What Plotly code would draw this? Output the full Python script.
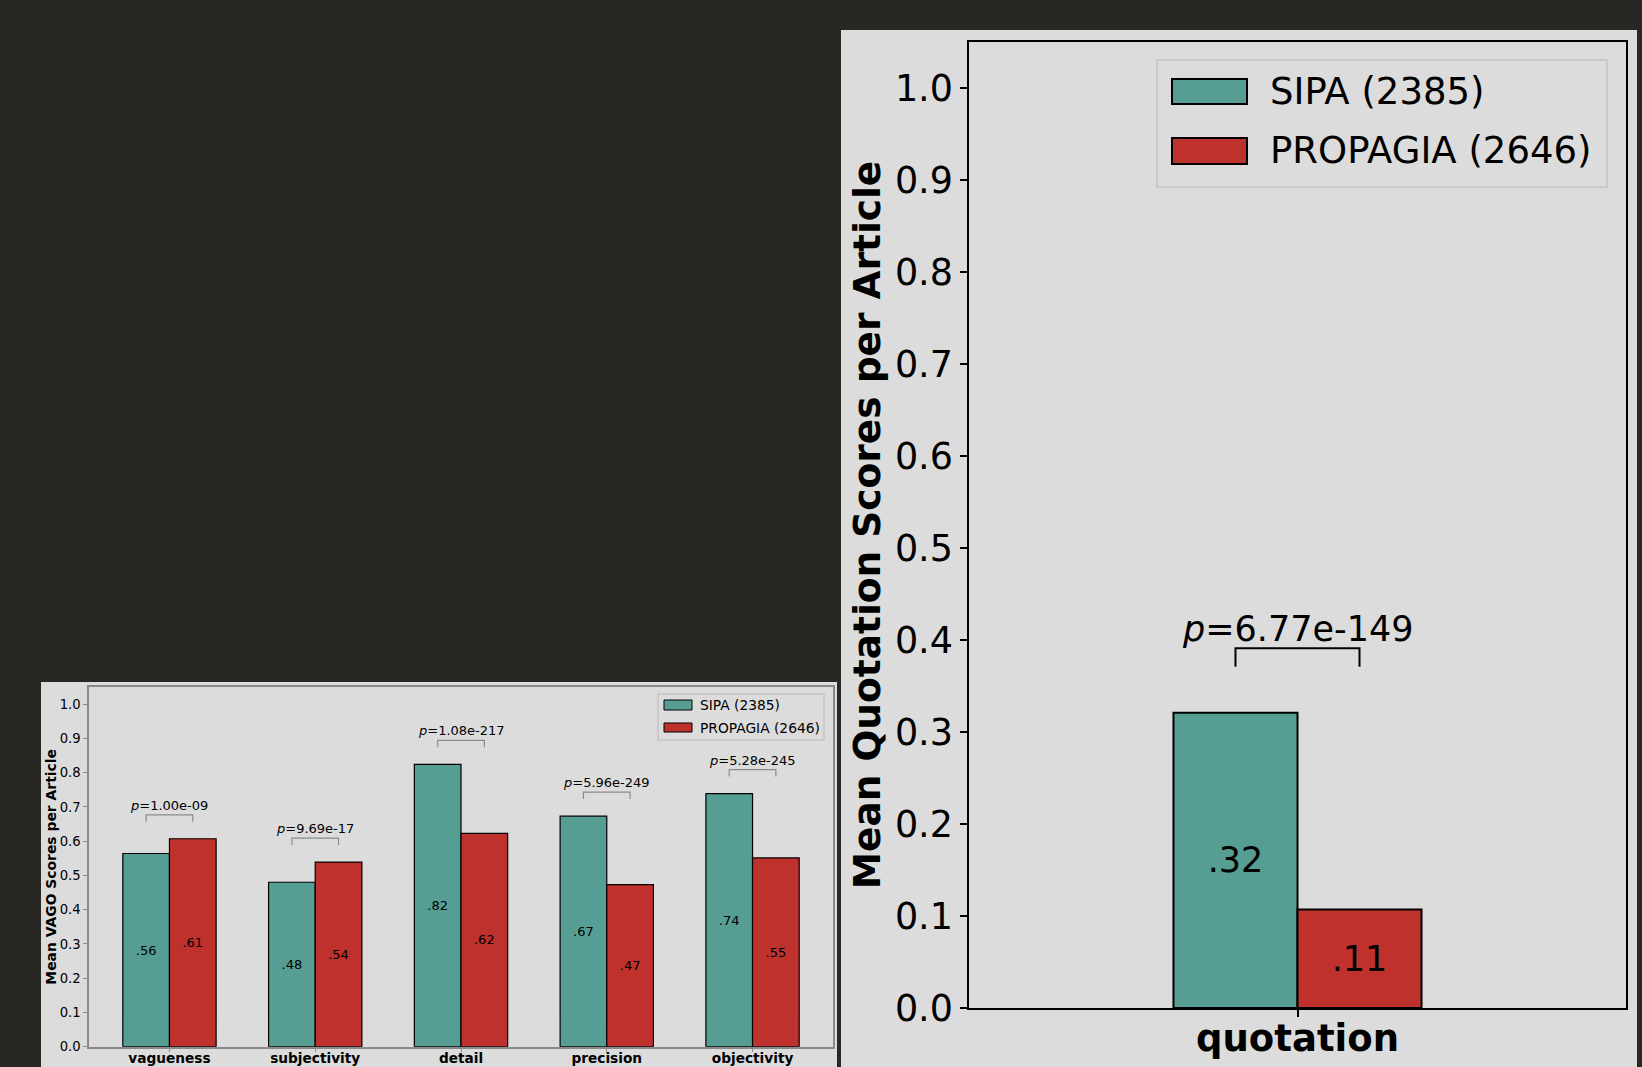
import plotly.graph_objects as go

# data
vago_cats = ["vagueness", "subjectivity", "detail", "precision", "objectivity"]
sipa_vago = [0.564, 0.480, 0.824, 0.673, 0.739]
propagia_vago = [0.607, 0.539, 0.623, 0.473, 0.551]
p_vago = ["1.00e-09", "9.69e-17", "1.08e-217", "5.96e-249", "5.28e-245"]

quot_cats = ["quotation"]
sipa_quot = [0.321]
propagia_quot = [0.107]
p_quot = ["6.77e-149"]

series_names = ["SIPA (2385)", "PROPAGIA (2646)"]
series_colors = ["#569E94", "#BF312C"]

W, H = 1642, 1067
BG = "#282724"
PANEL = "#DCDCDC"
FONT = "DejaVu Sans"


def px(x):
    return x / W


def py(y):
    return 1 - y / H


def lab(v):
    return f"{v:.2f}"[1:]


fig = go.Figure()
shapes = []
annots = []

# panel backgrounds
shapes.append(dict(type="rect", xref="paper", yref="paper", x0=px(41), x1=px(837),
                   y0=py(1067), y1=py(682), fillcolor=PANEL, line_width=0, layer="below"))
shapes.append(dict(type="rect", xref="paper", yref="paper", x0=px(841), x1=px(1637),
                   y0=py(1067), y1=py(30), fillcolor=PANEL, line_width=0, layer="below"))


def add_panel(cats, a, b, pvals, w, xa, ya, fs, edge_w, brk_col, pshift):
    idx = list(range(len(cats)))
    for vals, col, off in [(a, series_colors[0], -w), (b, series_colors[1], 0)]:
        fig.add_bar(x=idx, y=vals, width=w, offset=off, xaxis=xa, yaxis=ya,
                    marker=dict(color=col, line=dict(color="black", width=edge_w)),
                    text=[lab(v) for v in vals], textposition="inside",
                    insidetextanchor="middle", textangle=0,
                    textfont=dict(family=FONT, size=fs, color="black"),
                    showlegend=False, hoverinfo="skip")
    bx, by = [], []
    for i in idx:
        m = max(a[i], b[i])
        bx += [i - w / 2, i - w / 2, i + w / 2, i + w / 2, None]
        by += [m + 0.05, m + 0.07, m + 0.07, m + 0.05, None]
        annots.append(dict(x=i, y=m + 0.07, xref=xa, yref=ya, yanchor="bottom",
                           yshift=pshift, showarrow=False, text=f"<i>p</i>={pvals[i]}",
                           font=dict(family=FONT, size=fs, color="black")))
    fig.add_scatter(x=bx, y=by, mode="lines", xaxis=xa, yaxis=ya,
                    line=dict(color=brk_col, width=edge_w), showlegend=False,
                    hoverinfo="skip")


add_panel(vago_cats, sipa_vago, propagia_vago, p_vago, 0.32, "x", "y", 13, 1.2, "#8A8A8A", 0)
add_panel(quot_cats, sipa_quot, propagia_quot, p_quot, 0.35, "x2", "y2", 35, 2, "black", -3)


# hand-drawn legends (matplotlib style wide patches)
def add_legend(box, patch_x, patch_ys, text_x, fs, lw):
    shapes.append(dict(type="rect", xref="paper", yref="paper", x0=px(box[0]), x1=px(box[1]),
                       y0=py(box[3]), y1=py(box[2]), fillcolor=PANEL,
                       line=dict(color="#C4C4C4", width=1.5)))
    for name, col, (y0, y1) in zip(series_names, series_colors, patch_ys):
        shapes.append(dict(type="rect", xref="paper", yref="paper",
                           x0=px(patch_x[0]), x1=px(patch_x[1]), y0=py(y1), y1=py(y0),
                           fillcolor=col, line=dict(color="black", width=lw)))
        annots.append(dict(x=px(text_x), y=py((y0 + y1) / 2), xref="paper", yref="paper",
                           xanchor="left", yanchor="middle", showarrow=False, text=name,
                           font=dict(family=FONT, size=fs, color="black")))


add_legend((658, 824, 694, 740), (664, 692), [(700, 710), (723, 732)], 698, 13.8, 1)
add_legend((1157, 1607, 60, 187), (1172, 1247), [(79, 104), (138, 164)], 1268, 37, 2)

ticks = [i / 10 for i in range(11)]
common = dict(showgrid=False, zeroline=False, showline=True, mirror=True, ticks="outside",
              fixedrange=True, automargin=False)

fig.update_layout(
    template="none",
    width=W, height=H, autosize=False,
    margin=dict(l=0, r=0, t=0, b=0, pad=0),
    paper_bgcolor=BG, plot_bgcolor=PANEL,
    font=dict(family=FONT, color="black"),
    showlegend=False, barmode="overlay",
    shapes=shapes, annotations=annots,
    xaxis=dict(domain=[px(89), px(833)], anchor="y", range=[-0.552, 4.552],
               tickvals=list(range(len(vago_cats))),
               ticktext=[f"<b>{c}</b>" for c in vago_cats],
               tickfont=dict(size=13.7), linecolor="#8A8A8A", linewidth=1.5,
               tickcolor="#8A8A8A", ticklen=4, ticklabelstandoff=-6, **common),
    yaxis=dict(domain=[py(1046.7), py(687)], anchor="x", range=[0, 1.05],
               tickvals=ticks, tickformat=".1f", tickfont=dict(size=13.2),
               title=dict(text="<b>Mean VAGO Scores per Article</b>", font=dict(size=13.9),
                          standoff=0),
               linecolor="#8A8A8A", linewidth=1.5, tickcolor="#8A8A8A", ticklen=4, **common),
    xaxis2=dict(domain=[px(969), px(1626)], anchor="y2", range=[-0.927, 0.927],
                tickvals=[0], ticktext=[f"<b>{c}</b>" for c in quot_cats],
                tickfont=dict(size=37), linecolor="black", linewidth=1.5,
                tickcolor="black", ticklen=7, tickwidth=1.5, ticklabelstandoff=-10, **common),
    yaxis2=dict(domain=[py(1008), py(42)], anchor="x2", range=[0, 1.05],
                tickvals=ticks, tickformat=".1f", tickfont=dict(size=36.5),
                title=dict(text="<b>Mean Quotation Scores per Article</b>", font=dict(size=37.5),
                           standoff=3),
                linecolor="black", linewidth=1.5, tickcolor="black", ticklen=7, tickwidth=1.5,
                **common),
)

fig.write_html("out.html", config={"displayModeBar": False},
               post_script="document.body.style.margin='0';document.body.style.background='#282724';document.body.style.overflow='hidden';")
